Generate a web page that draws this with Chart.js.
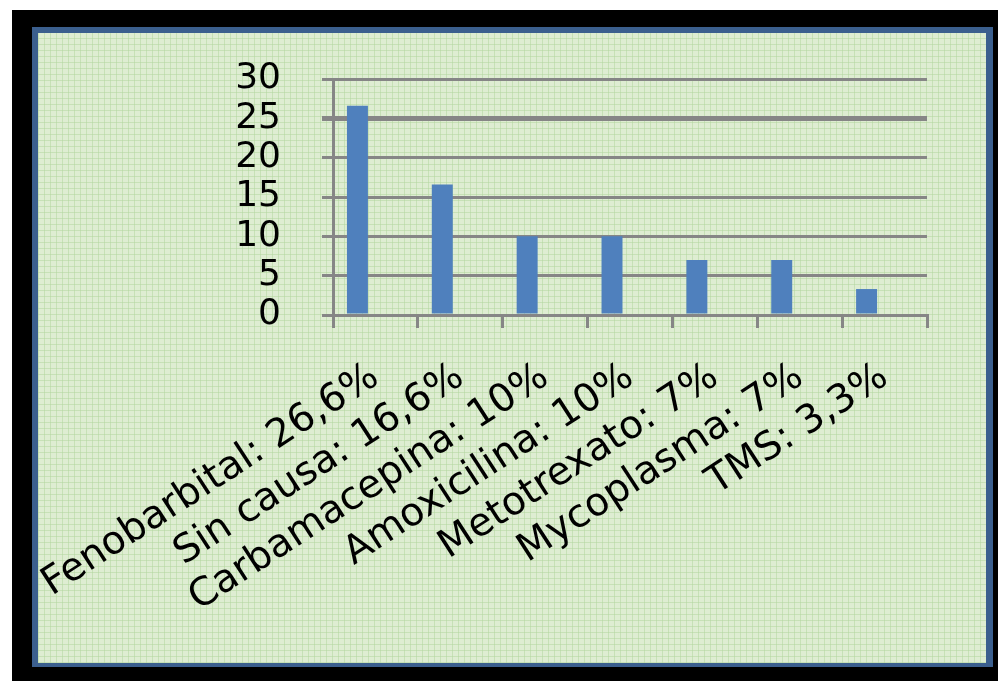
<!DOCTYPE html>
<html>
<head>
<meta charset="utf-8">
<script src="https://cdn.jsdelivr.net/npm/chart.js@4"></script>
<style>
  html, body { margin: 0; padding: 0; background: #ffffff; }
  body { width: 998px; height: 681px; position: relative; overflow: hidden; }
  #frame { position: absolute; left: 12px; top: 10px; width: 986px; height: 671px; background: #000000; }
  #panel {
    position: absolute; left: 32px; top: 27px; width: 948px; height: 630px;
    border-style: solid; border-color: #3b5f8e;
    border-width: 6px 7px 4px 6px;
    background-color: #deedd2;
    background-image:
      repeating-linear-gradient(0deg, rgba(180,215,160,0.55) 0px, rgba(180,215,160,0.55) 1px, transparent 1px, transparent 6px),
      repeating-linear-gradient(90deg, rgba(180,215,160,0.55) 0px, rgba(180,215,160,0.55) 1px, transparent 1px, transparent 6px);
  }
  #chart { position: absolute; left: 0; top: 0; }
</style>
</head>
<body>
<div id="frame"></div>
<div id="panel"><canvas id="chart" width="948" height="630"></canvas></div>
<script>
const categories = ["Fenobarbital: 26,6%", "Sin causa: 16,6%", "Carbamacepina: 10%", "Amoxicilina: 10%", "Metotrexato: 7%", "Mycoplasma: 7%", "TMS: 3,3%"];
const values = [26.6, 16.6, 10, 10, 7, 7, 3.3];
const emptySeries = [null, null, null, null, null, null, null];
const yTicks = [0, 5, 10, 15, 20, 25, 30];

const gridGray = '#868686';
const fontFamily = '"DejaVu Sans", "Liberation Sans", Arial, sans-serif';

new Chart(document.getElementById('chart'), {
  type: 'bar',
  data: {
    labels: categories,
    datasets: [
      { data: values, backgroundColor: '#4f80bd', borderWidth: 0, categoryPercentage: 0.848, barPercentage: 0.583 },
      { data: emptySeries, backgroundColor: 'rgba(0,0,0,0)', borderWidth: 0, categoryPercentage: 0.848, barPercentage: 0.583 }
    ]
  },
  options: {
    responsive: false,
    animation: false,
    events: [],
    layout: { padding: { left: 0, right: 59, top: 46, bottom: 0 } },
    plugins: { legend: { display: false }, tooltip: { enabled: false }, title: { display: false } },
    scales: {
      y: {
        min: yTicks[0], max: yTicks[yTicks.length - 1],
        afterFit: (s) => { s.width = 295; s.paddingTop = 0; s.paddingBottom = 0; },
        afterBuildTicks: (s) => { s.ticks = yTicks.map(v => ({ value: v })); },
        ticks: { stepSize: 5, autoSkip: false, color: '#000000', padding: 41, font: { family: fontFamily, size: 36 } },
        grid: {
          color: gridGray,
          lineWidth: (ctx) => (ctx.tick && ctx.tick.value === 25 ? 5 : 3),
          tickLength: 11,
          drawTicks: true
        },
        border: { display: true, color: gridGray, width: 3 }
      },
      x: {
        afterFit: (s) => { s.height = 348; s.paddingLeft = 0; s.paddingRight = 0; },
        offset: true,
        ticks: { color: '#000000', minRotation: 33, maxRotation: 33, padding: 26, autoSkip: false, font: { family: fontFamily, size: 39 } },
        grid: { offset: true, drawOnChartArea: false, drawTicks: true, tickLength: 13, color: gridGray, lineWidth: 3 },
        border: { display: true, color: gridGray, width: 3 }
      }
    }
  }
});
</script>
</body>
</html>
